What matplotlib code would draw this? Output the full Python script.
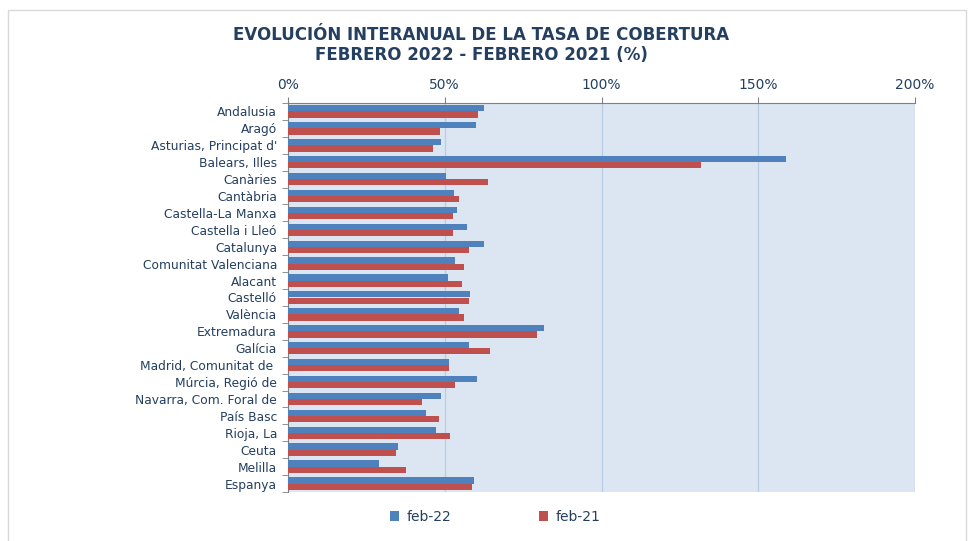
import matplotlib.pyplot as plt
import matplotlib.patches as mpatches
from matplotlib.ticker import FuncFormatter, FixedLocator
import numpy as np

plt.rcParams['font.family'] = ['DejaVu Sans']

regions = ["Andalusia", "Aragó", "Asturias, Principat d'", "Balears, Illes", "Canàries",
           "Cantàbria", "Castella-La Manxa", "Castella i Lleó", "Catalunya",
           "Comunitat Valenciana", "Alacant", "Castelló", "València", "Extremadura",
           "Galícia", "Madrid, Comunitat de ", "Múrcia, Regió de", "Navarra, Com. Foral de",
           "País Basc", "Rioja, La", "Ceuta", "Melilla", "Espanya"]
feb22 = [62.4, 60.1, 48.9, 158.8, 50.4, 53.1, 53.9, 57.2, 62.5, 53.2, 51.0, 58.1, 54.4,
         81.6, 57.7, 51.3, 60.4, 48.9, 44.0, 47.3, 35.2, 29.0, 59.2]
feb21 = [60.6, 48.5, 46.3, 131.6, 63.7, 54.4, 52.5, 52.6, 57.7, 56.1, 55.5, 57.8, 56.2,
         79.4, 64.3, 51.2, 53.4, 42.9, 48.2, 51.6, 34.6, 37.5, 58.7]
xticks = [0, 50, 100, 150, 200]

navy = "#243F60"
blue = "#4F81BD"
red = "#C0504D"

fig = plt.figure(figsize=(9.73, 5.41), dpi=100)
# chart border
fig.patches.append(mpatches.Rectangle((8/973, -0.01), 958/973, 1 - 10/541 + 0.01,
                                      transform=fig.transFigure, fill=False,
                                      edgecolor="#D9D9D9", linewidth=1))

ax = fig.add_axes([288/973, 1 - 492/541, 627/973, 389/541])
ax.set_facecolor("#DCE6F2")

y = np.arange(len(regions))
h = 0.37
ax.barh(y - h/2, feb22, height=h, color=blue, label="feb-22", zorder=3)
ax.barh(y + h/2, feb21, height=h, color=red, label="feb-21", zorder=3)

ax.set_xlim(0, 200)
ax.set_ylim(len(regions) - 0.5, -0.5)
ax.xaxis.tick_top()
ax.set_xticks(xticks)
ax.xaxis.set_major_formatter(FuncFormatter(lambda v, p: f"{v:.0f}%"))
ax.tick_params(axis="x", labelsize=10, colors="#808080", labelcolor=navy, length=4, pad=4)
ax.grid(axis="x", color="#B9CDE5", linewidth=1, zorder=1)

ax.set_yticks(y)
ax.set_yticklabels(regions, fontsize=8.8, color=navy)
ax.tick_params(axis="y", length=0, pad=8)
ax.yaxis.set_minor_locator(FixedLocator(np.arange(-0.5, len(regions), 1)))
ax.tick_params(axis="y", which="minor", length=4, color="#808080")

for s in ["right", "bottom"]:
    ax.spines[s].set_visible(False)
ax.spines["left"].set_color("#808080")
ax.spines["top"].set_color("#808080")

fig.text(481/973, 1 - 35/541, "EVOLUCIÓN INTERANUAL DE LA TASA DE COBERTURA",
         ha="center", va="center", fontsize=12, fontweight="bold", color=navy)
fig.text(481/973, 1 - 55/541, "FEBRERO 2022 - FEBRERO 2021 (%)",
         ha="center", va="center", fontsize=12, fontweight="bold", color=navy)

leg = fig.legend(loc="center", bbox_to_anchor=(495/973, 1 - 517/541), ncol=2,
                 frameon=False, fontsize=10, handlelength=0.7, handleheight=0.7,
                 columnspacing=6.3, handletextpad=0.5)
for t in leg.get_texts():
    t.set_color(navy)

plt.savefig("out.png", dpi=100)
